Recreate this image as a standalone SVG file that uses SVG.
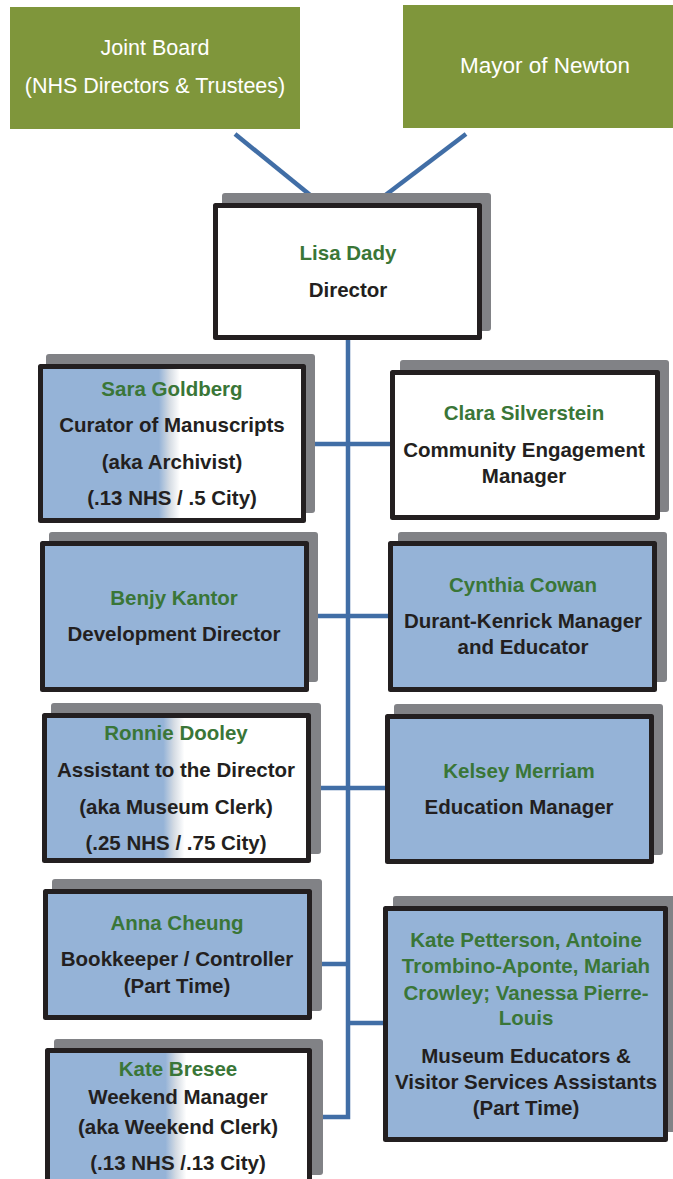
<svg xmlns="http://www.w3.org/2000/svg" width="673" height="1179" viewBox="0 0 673 1179">
<style>
.top{fill:#7f963b}
.tt{font-family:"Liberation Sans",Arial,sans-serif;font-size:21.5px;fill:#ffffff;text-anchor:middle}
.sh{fill:#818286}
.bx{stroke:#231f20;stroke-width:5;stroke-linejoin:round}
.w{fill:#ffffff}
.b{fill:#95b3d7}
.g{fill:url(#half)}
.n{font-family:"Liberation Sans",Arial,sans-serif;font-size:20.5px;font-weight:bold;fill:#3a7637;text-anchor:middle}
.r{font-family:"Liberation Sans",Arial,sans-serif;font-size:20.5px;font-weight:bold;fill:#231f20;text-anchor:middle}
.c{fill:none;stroke:#416ea6;stroke-width:4.5}
</style>
<defs>
<linearGradient id="half" x1="0" y1="0" x2="1" y2="0">
<stop offset="0" stop-color="#95b3d7"/>
<stop offset="0.45" stop-color="#95b3d7"/>
<stop offset="0.49" stop-color="#d4dbe3"/>
<stop offset="0.53" stop-color="#ffffff"/>
<stop offset="1" stop-color="#ffffff"/>
</linearGradient>
</defs>
<rect width="673" height="1179" fill="#ffffff"/>

<g id="connectors">
<line class="c" x1="235" y1="134" x2="320" y2="203"/>
<line class="c" x1="466" y1="134" x2="375" y2="203"/>
<path class="c" d="M348 338 V1117 H318"/>
<line class="c" x1="300" y1="444" x2="394" y2="444"/>
<line class="c" x1="300" y1="616" x2="392" y2="616"/>
<line class="c" x1="300" y1="788" x2="390" y2="788"/>
<line class="c" x1="305" y1="964" x2="348" y2="964"/>
<line class="c" x1="348" y1="1023" x2="388" y2="1023"/>
</g>

<g id="joint-board">
<rect class="top" x="10" y="7" width="290" height="122"/>
<text class="tt" x="155" y="55">Joint Board</text>
<text class="tt" x="155" y="93">(NHS Directors &amp; Trustees)</text>
</g>

<g id="mayor">
<rect class="top" x="403" y="5" width="270" height="123"/>
<text class="tt" x="545" y="73" style="font-size:22.5px">Mayor of Newton</text>
</g>

<g id="director">
<rect class="sh" x="222" y="193" width="269" height="138" rx="3"/>
<rect class="bx w" x="215.5" y="205.5" width="264" height="132"/>
<text class="n" x="348" y="260">Lisa Dady</text>
<text class="r" x="348" y="297">Director</text>
</g>

<g id="sara-goldberg">
<rect class="sh" x="46" y="354" width="269" height="159" rx="3"/>
<rect class="bx g" x="40.5" y="366.5" width="263" height="154"/>
<text class="n" x="172" y="396">Sara Goldberg</text>
<text class="r" x="172" y="432">Curator of Manuscripts</text>
<text class="r" x="172" y="469">(aka Archivist)</text>
<text class="r" x="172" y="505">(.13 NHS / .5 City)</text>
</g>

<g id="clara-silverstein">
<rect class="sh" x="400" y="360" width="269" height="152" rx="3"/>
<rect class="bx w" x="392.5" y="372.5" width="265" height="145"/>
<text class="n" x="524" y="420">Clara Silverstein</text>
<text class="r" x="524" y="457">Community Engagement</text>
<text class="r" x="524" y="483">Manager</text>
</g>

<g id="benjy-kantor">
<rect class="sh" x="49" y="532" width="269" height="150" rx="3"/>
<rect class="bx b" x="42.5" y="543.5" width="264" height="146"/>
<text class="n" x="174" y="605">Benjy Kantor</text>
<text class="r" x="174" y="641">Development Director</text>
</g>

<g id="cynthia-cowan">
<rect class="sh" x="398" y="532" width="269" height="150" rx="3"/>
<rect class="bx b" x="390.5" y="543.5" width="264" height="146"/>
<text class="n" x="523" y="592">Cynthia Cowan</text>
<text class="r" x="523" y="628">Durant-Kenrick Manager</text>
<text class="r" x="523" y="654">and Educator</text>
</g>

<g id="ronnie-dooley">
<rect class="sh" x="51" y="703" width="270" height="151" rx="3"/>
<rect class="bx g" x="44.5" y="715.5" width="264" height="145"/>
<text class="n" x="176" y="740">Ronnie Dooley</text>
<text class="r" x="176" y="777">Assistant to the Director</text>
<text class="r" x="176" y="814">(aka Museum Clerk)</text>
<text class="r" x="176" y="850">(.25 NHS / .75 City)</text>
</g>

<g id="kelsey-merriam">
<rect class="sh" x="394" y="704" width="269" height="151" rx="3"/>
<rect class="bx b" x="387.5" y="716.5" width="264" height="145"/>
<text class="n" x="519" y="778">Kelsey Merriam</text>
<text class="r" x="519" y="814">Education Manager</text>
</g>

<g id="anna-cheung">
<rect class="sh" x="52" y="879" width="270" height="132" rx="3"/>
<rect class="bx b" x="45.5" y="891.5" width="264" height="126"/>
<text class="n" x="177" y="930">Anna Cheung</text>
<text class="r" x="177" y="966">Bookkeeper / Controller</text>
<text class="r" x="177" y="993">(Part Time)</text>
</g>

<g id="museum-educators">
<rect class="sh" x="393" y="896" width="282" height="236" rx="3"/>
<rect class="bx b" x="385.5" y="908.5" width="280" height="231"/>
<text class="n" x="526" y="947">Kate Petterson, Antoine</text>
<text class="n" x="526" y="973">Trombino-Aponte, Mariah</text>
<text class="n" x="526" y="1000">Crowley; Vanessa Pierre-</text>
<text class="n" x="526" y="1025">Louis</text>
<text class="r" x="526" y="1063">Museum Educators &amp;</text>
<text class="r" x="526" y="1089">Visitor Services Assistants</text>
<text class="r" x="526" y="1115">(Part Time)</text>
</g>

<g id="kate-bresee">
<rect class="sh" x="54" y="1039" width="269" height="136" rx="3"/>
<rect class="bx g" x="47.5" y="1050.5" width="262" height="140"/>
<text class="n" x="178" y="1076">Kate Bresee</text>
<text class="r" x="178" y="1104">Weekend Manager</text>
<text class="r" x="178" y="1134">(aka Weekend Clerk)</text>
<text class="r" x="178" y="1170">(.13 NHS /.13 City)</text>
</g>
</svg>
